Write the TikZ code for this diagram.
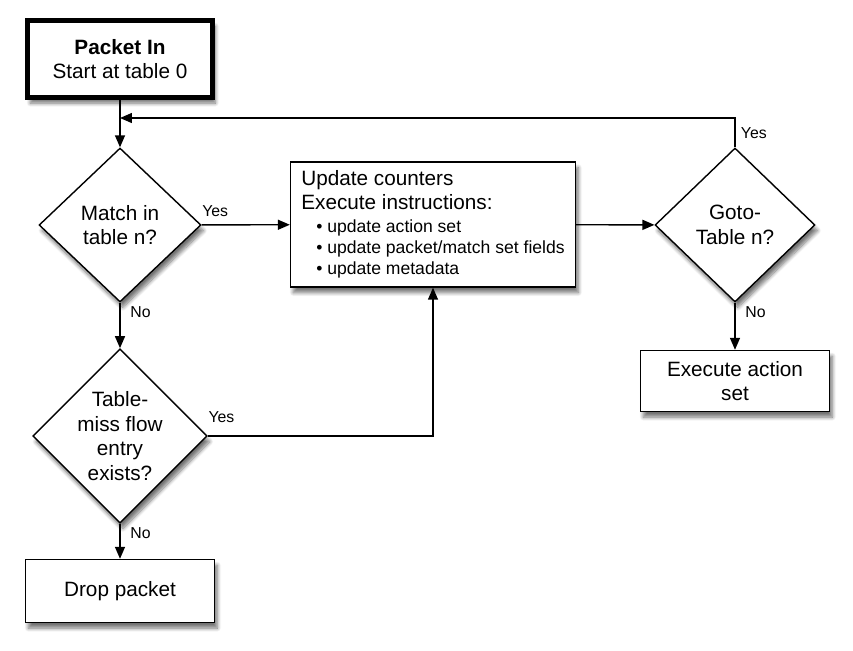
\documentclass[tikz,border=0pt]{standalone}
\usepackage{fontspec}
\setmainfont{Liberation Sans}
\usetikzlibrary{arrows.meta,shapes.geometric,shadows.blur}

\tikzset{
  base/.style={draw, fill=white, line width=0.8pt, inner sep=0pt, align=center,
    font=\fontsize{11.8}{14}\selectfont,
    blur shadow={shadow xshift=1.6pt, shadow yshift=-3.2pt, shadow blur steps=8, shadow opacity=55}},
  stepbox/.style={base, rectangle, minimum width=3.78cm, minimum height=1.24cm},
  test/.style={base, diamond, minimum width=3.24cm, minimum height=3.08cm},
  lbl/.style={font=\fontsize{9}{11}\selectfont, inner sep=0pt},
  arr/.style={-{Triangle[length=0.24cm,width=0.2cm]}, line width=0.8pt},
}
\newcommand{\bul}[1]{\hspace*{0.3cm}{\fontsize{10}{12}\selectfont\textbullet\ #1}}

\begin{document}
\begin{tikzpicture}[x=0.02cm, y=-0.02cm]

\useasboundingbox (0,0) rectangle (853,650);

\node[stepbox, line width=2.8pt, minimum width=3.7cm, minimum height=1.54cm] (in) at (120,59) {\textbf{Packet In}\\Start at table 0};

\node[test] (match) at (120,225) {Match in\\table n?};
\node[test, minimum width=3.44cm, minimum height=3.44cm] (miss) at (120,436) {Table-\\miss flow\\entry\\exists?};
\node[stepbox, minimum height=1.26cm] (drop) at (120,591) {Drop packet};

\node[stepbox, minimum width=5.7cm, minimum height=2.5cm, align=left] (upd) at (433,224.5)
  {Update counters\\Execute instructions:\\[-1pt]
   \bul{update action set}\\[-2pt]
   \bul{update packet/match set fields}\\[-2pt]
   \bul{update metadata}};

\node[test, minimum width=3.2cm] (goto) at (735,225) {Goto-\\Table n?};
\node[stepbox, minimum height=1.22cm] (exec) at (735,381) {Execute action\\set};

\coordinate (back) at (120,118);

\path[arr]
  (in) edge (match)
  (match) edge node[lbl, pos=0, anchor=south west, yshift=4pt] {Yes} (upd)
  (match) edge node[lbl, pos=0, anchor=north west, xshift=5.5pt, yshift=-2pt] {No} (miss)
  (miss) edge node[lbl, pos=0, anchor=north west, xshift=5.5pt, yshift=-2pt] {No} (drop)
  (upd) edge (goto)
  (goto) edge node[lbl, pos=0, anchor=north west, xshift=5.5pt, yshift=-2pt] {No} (exec);

\draw[arr] (miss.east) -| node[lbl, pos=0, anchor=south west, yshift=7pt] {Yes} (upd.south);
\draw[arr] (goto.north) |- node[lbl, pos=0.25, right, xshift=3pt] {Yes} (back);

\end{tikzpicture}
\end{document}
